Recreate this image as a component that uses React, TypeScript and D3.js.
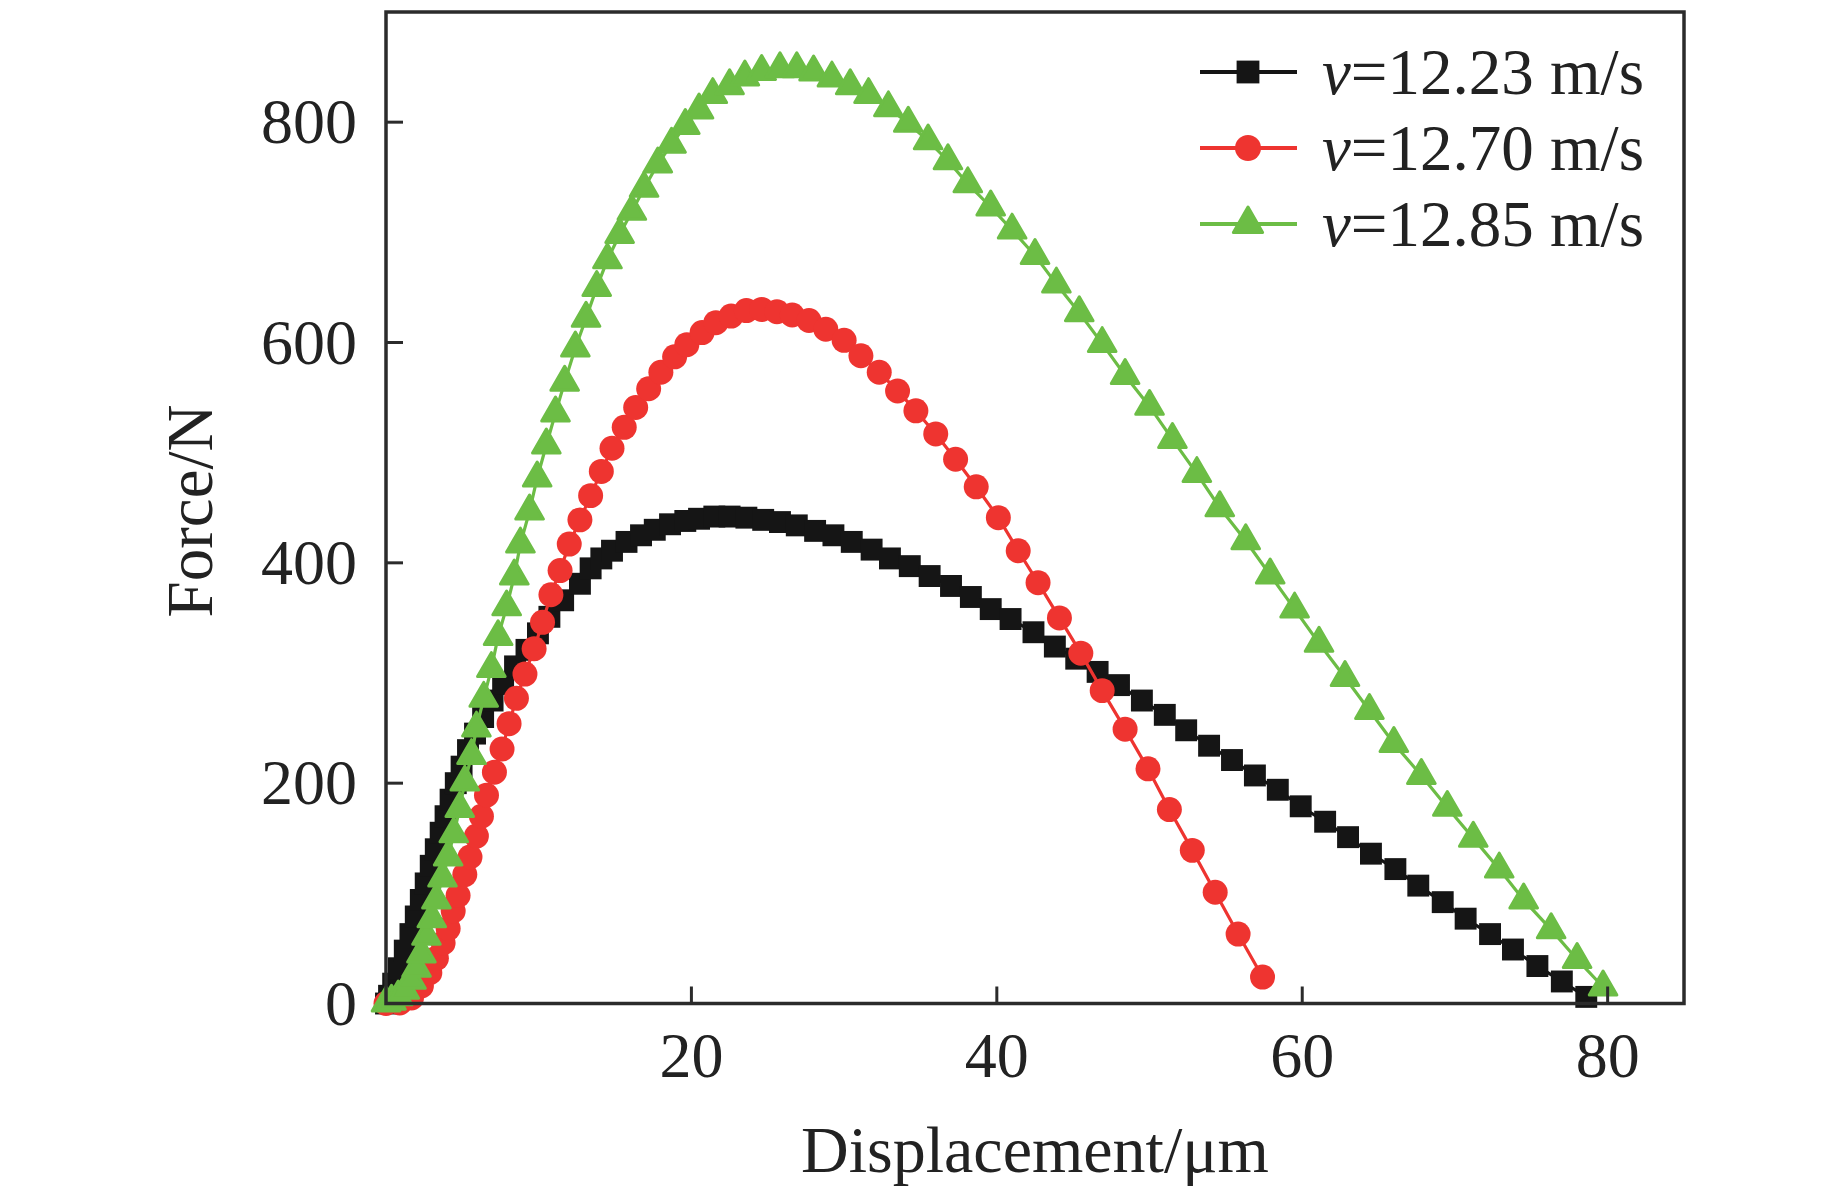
import React from "react";
import * as d3 from "d3";

const xTicks = [20, 40, 60, 80];
const yTicks = [0, 200, 400, 600, 800];

const seriesNames = ["v=12.23 m/s", "v=12.70 m/s", "v=12.85 m/s"];
const seriesSpeeds = ["12.23", "12.70", "12.85"];

const blackData: [number, number][] = [
  [0, 0], [0.2, 7], [0.47, 18], [0.85, 32], [1.23, 48], [1.6, 63], [1.95, 79], [2.28, 94],
  [2.6, 109], [2.93, 125], [3.26, 140], [3.58, 155], [3.9, 170], [4.23, 185], [4.57, 200],
  [4.95, 215], [5.37, 230], [5.83, 245], [6.36, 260], [6.98, 275], [7.67, 290], [8.45, 306],
  [9.2, 321], [9.95, 336], [10.7, 351], [11.6, 366], [12.7, 381], [13.4, 395], [14.1, 404],
  [14.8, 411], [15.75, 419], [16.7, 425], [17.6, 430], [18.6, 435], [19.6, 438], [20.5, 440],
  [21.5, 442], [22.5, 442], [23.6, 441], [24.7, 439], [25.8, 437], [26.9, 434], [28.1, 429],
  [29.3, 425], [30.5, 419], [31.8, 412], [33.0, 404], [34.3, 397], [35.6, 388], [37.0, 379],
  [38.3, 369], [39.6, 358], [40.9, 349], [42.4, 337], [43.8, 324], [45.2, 313], [46.6, 301],
  [48.0, 289], [49.5, 275], [51.0, 262], [52.4, 248], [53.9, 234], [55.4, 221], [56.9, 207],
  [58.4, 194], [59.9, 179], [61.5, 165], [63.0, 151], [64.5, 136], [66.1, 122], [67.6, 107],
  [69.2, 92], [70.7, 77], [72.3, 63], [73.8, 49], [75.4, 34], [77.0, 20], [78.6, 6],
];

const redData: [number, number][] = [
  [0, 0], [0.9, 0.5], [1.67, 5], [2.32, 16], [2.87, 28], [3.3, 41], [3.74, 55], [4.07, 68],
  [4.4, 84], [4.72, 98], [5.16, 117], [5.5, 133], [5.92, 152], [6.25, 170], [6.58, 189],
  [7.1, 210], [7.6, 231], [8.06, 254], [8.54, 277], [9.1, 299], [9.7, 322], [10.25, 346],
  [10.8, 371], [11.4, 393], [12.0, 417], [12.7, 439], [13.4, 461], [14.1, 483], [14.8, 504],
  [15.6, 523], [16.35, 541], [17.2, 558], [18.0, 573], [18.9, 587], [19.7, 598], [20.7, 609],
  [21.6, 618], [22.6, 624], [23.6, 629], [24.6, 630], [25.6, 628], [26.6, 625], [27.7, 620],
  [28.8, 612], [30.0, 602], [31.1, 588], [32.3, 573], [33.5, 556], [34.7, 538], [36.0, 517],
  [37.3, 494], [38.65, 469], [40.1, 441], [41.4, 411], [42.7, 382], [44.1, 350], [45.5, 318],
  [46.9, 284], [48.4, 249], [49.9, 213], [51.3, 176], [52.8, 139], [54.3, 101], [55.8, 63],
  [57.4, 24],
];

const greenData: [number, number][] = [
  [0, 0.5], [0.36, 2], [0.8, 6], [1.23, 12], [1.67, 21], [2.0, 32], [2.32, 45], [2.65, 61],
  [3.0, 77], [3.3, 94], [3.7, 114], [4.07, 133], [4.44, 154], [4.83, 177], [5.16, 201],
  [5.6, 225], [5.92, 250], [6.4, 277], [6.9, 304], [7.34, 333], [7.9, 360], [8.4, 388],
  [8.8, 417], [9.4, 447], [9.9, 477], [10.5, 507], [11.1, 536], [11.7, 564], [12.4, 595],
  [13.1, 622], [13.8, 650], [14.5, 675], [15.3, 698], [16.1, 719], [16.9, 740], [17.8, 762],
  [18.7, 780], [19.6, 797], [20.5, 811], [21.4, 825], [22.5, 833], [23.5, 841], [24.6, 846],
  [25.8, 848.5], [26.9, 848.5], [28.0, 845.5], [29.2, 840], [30.4, 833], [31.6, 825],
  [32.9, 813], [34.2, 799], [35.5, 783], [36.8, 765], [38.1, 744], [39.6, 723], [41.0, 702],
  [42.5, 679], [43.9, 653], [45.4, 627], [46.9, 599], [48.4, 570], [50.0, 542], [51.5, 512],
  [53.1, 481], [54.6, 450], [56.3, 420], [57.9, 389], [59.5, 358], [61.1, 327], [62.8, 296],
  [64.4, 266], [66.0, 236], [67.8, 207], [69.5, 178], [71.2, 150], [72.9, 122], [74.5, 94],
  [76.3, 67], [78.0, 40], [79.7, 15],
];

const W = 1843;
const H = 1193;
const M = { left: 386, right: 1684, top: 12, bottom: 1003.5 };
const FONT = "'Liberation Serif', 'Times New Roman', serif";
const AXIS = "#2b2b2b";

const colors = ["#151515", "#ee3430", "#6cbd45"];
const symbols = [d3.symbolSquare, d3.symbolCircle, d3.symbolTriangle];
const symSizes = [480, 490, 330];

export default function App() {
  React.useEffect(() => {
    document.body.style.margin = "0";
  }, []);

  const x = d3.scaleLinear().domain([0, 85]).range([M.left, M.right]);
  const y = d3.scaleLinear().domain([0, 900]).range([M.bottom, M.top]);
  const line = d3
    .line<[number, number]>()
    .x((d) => x(d[0]))
    .y((d) => y(d[1]));

  const all = [blackData, redData, greenData];
  const symPaths = symbols.map((s, i) => d3.symbol(s, symSizes[i])() as string);

  const legendRows = [72, 148, 224];

  return (
    <svg
      width={W}
      height={H}
      style={{ display: "block", position: "absolute", left: 0, top: 0, background: "#fff" }}
      fontFamily={FONT}
    >
      <rect x={0} y={0} width={W} height={H} fill="#fff" />
      {/* series */}
      {all.map((data, i) => (
        <g key={i}>
          <path d={line(data) as string} fill="none" stroke={colors[i]} strokeWidth={3.2} />
          {data.map((d, j) => (
            <path
              key={j}
              d={symPaths[i]}
              transform={`translate(${x(d[0])},${y(d[1])})`}
              fill={colors[i]}
              stroke={colors[i]}
              strokeWidth={i === 2 ? 3 : 0}
              strokeLinejoin="round"
            />
          ))}
        </g>
      ))}

      {/* frame */}
      <rect
        x={M.left}
        y={M.top}
        width={M.right - M.left}
        height={M.bottom - M.top}
        fill="none"
        stroke={AXIS}
        strokeWidth={3.5}
      />

      {/* x ticks */}
      {xTicks.map((t) => (
        <g key={"x" + t}>
          <line x1={x(t)} x2={x(t)} y1={M.bottom} y2={M.bottom - 17} stroke={AXIS} strokeWidth={3} />
          <text x={x(t)} y={1077} textAnchor="middle" fontSize={64} fill="#222">
            {t}
          </text>
        </g>
      ))}

      {/* y ticks */}
      {yTicks.map((t) => (
        <g key={"y" + t}>
          <line x1={M.left} x2={M.left + 17} y1={y(t)} y2={y(t)} stroke={AXIS} strokeWidth={3} />
          <text x={357} y={y(t) + 21} textAnchor="end" fontSize={64} fill="#222">
            {t}
          </text>
        </g>
      ))}

      {/* axis titles */}
      <text x={(M.left + M.right) / 2} y={1172} textAnchor="middle" fontSize={66} fill="#222">
        Displacement/μm
      </text>
      <text
        transform={`translate(212,511) rotate(-90)`}
        textAnchor="middle"
        fontSize={65}
        fill="#222"
      >
        Force/N
      </text>

      {/* legend */}
      {legendRows.map((ly, i) => (
        <g key={"lg" + i}>
          <line x1={1200} x2={1297} y1={ly} y2={ly} stroke={colors[i]} strokeWidth={4} />
          <path
            d={d3.symbol(symbols[i], symSizes[i] + 40)() as string}
            transform={`translate(1248,${ly})`}
            fill={colors[i]}
            stroke={colors[i]}
            strokeWidth={i === 2 ? 3 : 0}
            strokeLinejoin="round"
          />
          <text x={1322} y={ly + 22} fontSize={65} fill="#222" aria-label={seriesNames[i]}>
            <tspan fontStyle="italic">v</tspan>
            <tspan>={seriesSpeeds[i]} m/s</tspan>
          </text>
        </g>
      ))}
    </svg>
  );
}
